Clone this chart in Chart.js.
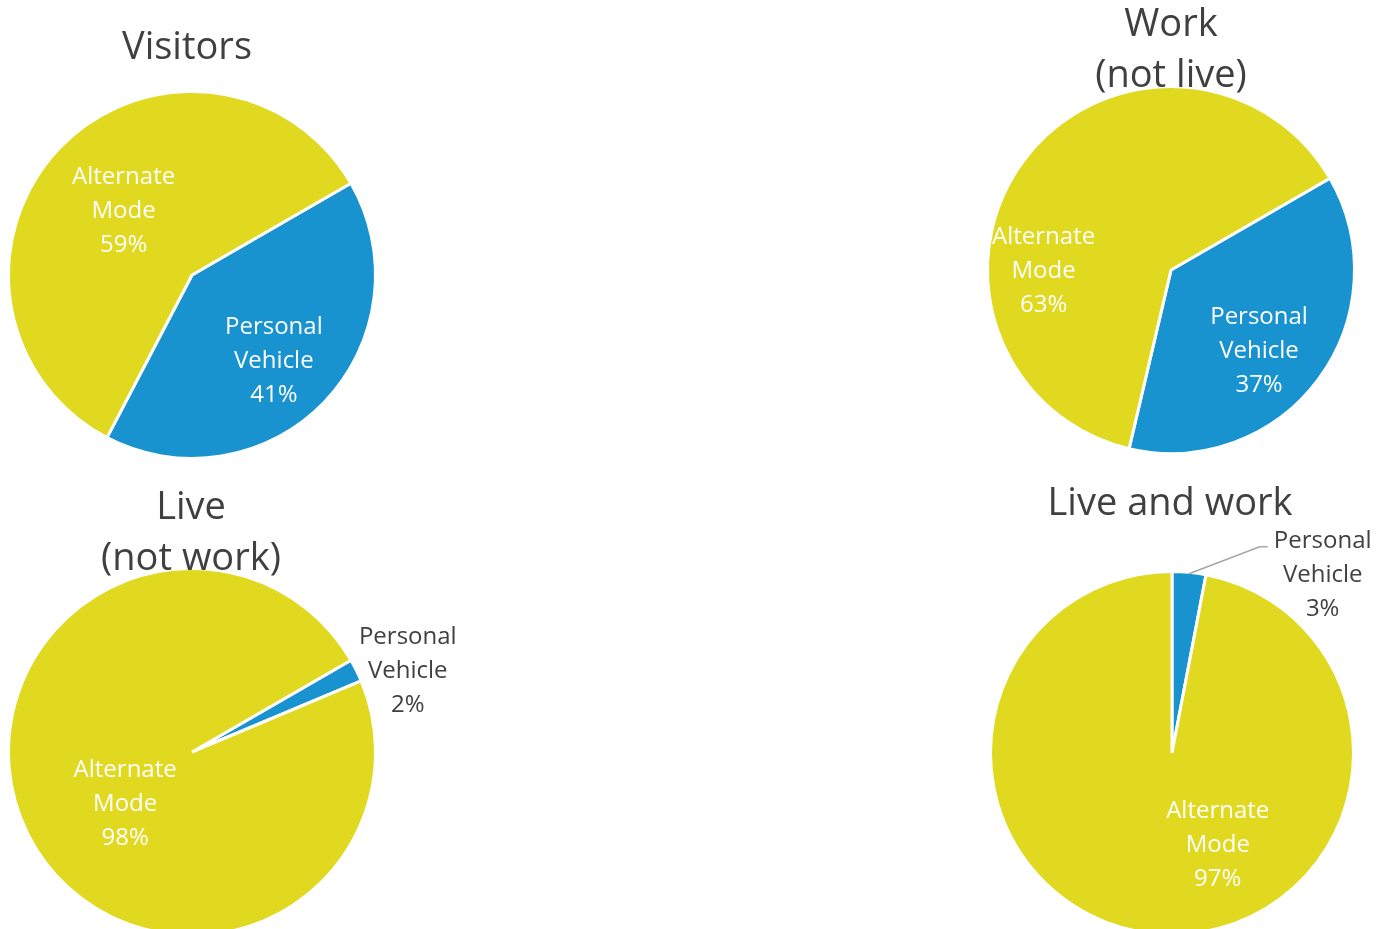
<!DOCTYPE html>
<html lang="en">
<head>
<meta charset="UTF-8">
<title>Mode share pies</title>
<script src="https://cdn.jsdelivr.net/npm/chart.js@4"></script>
<style>
  html, body {
    margin: 0;
    padding: 0;
    background: #fff;
    width: 1379px;
    height: 929px;
    overflow: hidden;
    position: relative;
  }
  canvas {
    position: absolute;
  }
</style>
</head>
<body>
<canvas id="visitors" width="600" height="600"></canvas>
<canvas id="work" width="600" height="600"></canvas>
<canvas id="live" width="600" height="600"></canvas>
<canvas id="liveWork" width="600" height="600"></canvas>

<script>
// data
const categories = ['Personal Vehicle', 'Alternate Mode'];
const visitorsValues = [41, 59];
const workValues = [37, 63];
const liveValues = [2, 98];
const liveWorkValues = [3, 97];

const visitorsTitle = ['Visitors'];
const workTitle = ['Work', '(not live)'];
const liveTitle = ['Live', '(not work)'];
const liveWorkTitle = ['Live and work'];

const colors = ['#1893D0', '#E0D920'];
const darkText = '#404040';
const fontFamily = '"Open Sans", "DejaVu Sans", sans-serif';

// text drawing: slice labels and chart title
const pieText = {
  id: 'pieText',
  afterDraw(chart, args, opts) {
    const ctx = chart.ctx;
    const meta = chart.getDatasetMeta(0);
    const values = chart.data.datasets[0].data;
    const cx = meta.data[0].x;
    const cy = meta.data[0].y;
    ctx.save();

    meta.data.forEach((arc, i) => {
      const p = opts.labels[i];
      const a = p.angle * Math.PI / 180;
      const x = cx + Math.sin(a) * opts.radius * p.r;
      const y = cy - Math.cos(a) * opts.radius * p.r;
      const lines = chart.data.labels[i].split(' ').concat(values[i] + '%');

      if (p.leader) {
        const mid = (arc.startAngle + arc.endAngle) / 2;
        ctx.strokeStyle = '#A6A6A6';
        ctx.lineWidth = 1.5;
        ctx.beginPath();
        ctx.moveTo(cx + Math.cos(mid) * opts.radius, cy + Math.sin(mid) * opts.radius);
        ctx.lineTo(x - 63, y - 26);
        ctx.lineTo(x - 55, y - 26);
        ctx.stroke();
      }

      ctx.fillStyle = p.outside ? darkText : '#fff';
      ctx.font = '24px ' + fontFamily;
      ctx.textAlign = 'center';
      ctx.textBaseline = 'middle';
      lines.forEach((t, k) => ctx.fillText(t, x, y + 2 + (k - 1) * 34));
    });

    ctx.fillStyle = darkText;
    ctx.font = '38px ' + fontFamily;
    ctx.textAlign = 'center';
    ctx.textBaseline = 'alphabetic';
    opts.title.forEach((t, k) => {
      ctx.fillText(t, cx + opts.titleDx, cy + opts.titleDy + k * 51);
    });
    ctx.restore();
  }
};

function makePie(id, values, title, setup) {
  const canvas = document.getElementById(id);
  canvas.style.left = (setup.cx - 300) + 'px';
  canvas.style.top = (setup.cy - 300) + 'px';

  new Chart(canvas, {
    type: 'pie',
    data: {
      labels: categories,
      datasets: [{
        data: values,
        backgroundColor: colors,
        borderColor: '#fff',
        borderWidth: 3
      }]
    },
    options: {
      responsive: false,
      animation: false,
      radius: setup.radius + 1.5,
      rotation: setup.rotation,
      plugins: {
        legend: { display: false },
        tooltip: { enabled: false },
        title: { display: false },
        pieText: {
          radius: setup.radius,
          labels: setup.labels,
          title: title,
          titleDx: setup.titleDx,
          titleDy: setup.titleDy
        }
      }
    },
    plugins: [pieText]
  });
}

makePie('visitors', visitorsValues, visitorsTitle, {
  cx: 192, cy: 275, radius: 182, rotation: 60,
  titleDx: -5, titleDy: -216,
  labels: [{ angle: 135.7, r: 0.644 }, { angle: 313.7, r: 0.52 }]
});

makePie('work', workValues, workTitle, {
  cx: 1171, cy: 270, radius: 182, rotation: 60,
  titleDx: 0, titleDy: -234,
  labels: [{ angle: 131.9, r: 0.65 }, { angle: 270.4, r: 0.70 }]
});

makePie('live', liveValues, liveTitle, {
  cx: 192, cy: 752, radius: 182, rotation: 60,
  titleDx: -1, titleDy: -233,
  labels: [{ angle: 69, r: 1.27, outside: true }, { angle: 233, r: 0.46 }]
});

makePie('liveWork', liveWorkValues, liveWorkTitle, {
  cx: 1172, cy: 753, radius: 180, rotation: 0,
  titleDx: -2, titleDy: -238,
  labels: [{ angle: 39.9, r: 1.305, outside: true, leader: true }, { angle: 153, r: 0.56 }]
});
</script>
</body>
</html>
